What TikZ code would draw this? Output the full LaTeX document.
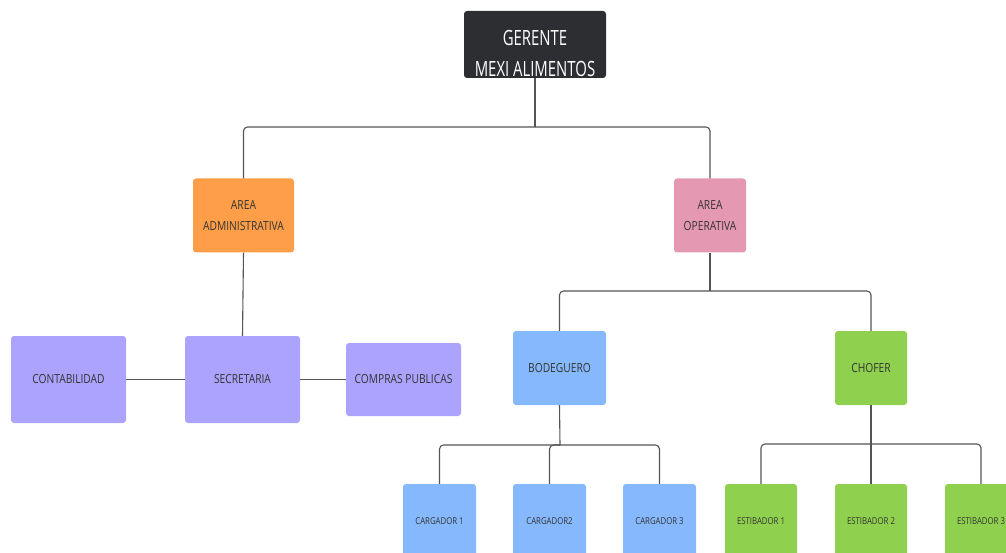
\documentclass[tikz,border=0pt]{standalone}
\usepackage{fontspec}
\setmainfont[FakeStretch=0.82]{Open Sans}
\newfontfamily\headfont[FakeStretch=0.71]{Open Sans}
\begin{document}
\begin{tikzpicture}[x=1pt,y=-1pt,
  box/.style={rounded corners=3pt, inner sep=0pt, align=center, text=black!80},
  head/.style={box, fill=headgray, minimum width=142pt, minimum height=67pt},
  headtext/.style={align=center, inner sep=0pt, text=white, font=\headfont\fontsize{21}{30.5}\selectfont},
  midbox/.style={box, minimum width=101pt, minimum height=74pt, font=\fontsize{12.5}{21}\selectfont},
  leaf/.style={box, minimum width=73pt, minimum height=74pt, font=\fontsize{9.5}{11}\selectfont},
  link/.style={draw=linegray, line width=1.1pt, rounded corners=4pt}]
\definecolor{headgray}{HTML}{2D2E32}
\definecolor{orangebox}{HTML}{FE9E48}
\definecolor{pinkbox}{HTML}{E598B2}
\definecolor{purplebox}{HTML}{ABA3FD}
\definecolor{bluebox}{HTML}{86B8FD}
\definecolor{greenbox}{HTML}{8FD14F}
\definecolor{linegray}{HTML}{555555}
\useasboundingbox (0,0) rectangle (1006,553);
\clip (0,0) rectangle (1006,553);
\fill[white] (0,0) rectangle (1006,553);

% top of the chart
\node[head] (ger) at (535,44.5) {};
\node[headtext] (gertext) at (535,53.5) {GERENTE\\MEXI ALIMENTOS};

% second level
\node[midbox, fill=orangebox] (adm) at (243.5,215.5) {AREA\\ADMINISTRATIVA};
\node[midbox, fill=pinkbox, minimum width=72pt] (ope) at (710,215.5) {AREA\\OPERATIVA};

% administrative branch
\node[midbox, fill=purplebox, minimum width=115pt, minimum height=87pt] (sec) at (242.5,379.5) {SECRETARIA};
\node[midbox, fill=purplebox, minimum width=115pt, minimum height=87pt] (con) at (68.5,379.5) {CONTABILIDAD};
\node[midbox, fill=purplebox, minimum width=115pt, minimum height=73pt] (com) at (403.5,379.5) {COMPRAS PUBLICAS};

% operative branch
\node[midbox, fill=bluebox, minimum width=93pt] (bod) at (559.5,368) {BODEGUERO};
\node[midbox, fill=greenbox, minimum width=72pt] (cho) at (871,368) {CHOFER};

% loaders and stevedores
\node[leaf, fill=bluebox] (c1) at (439.5,521) {CARGADOR 1};
\node[leaf, fill=bluebox] (c2) at (549.5,521) {CARGADOR2};
\node[leaf, fill=bluebox] (c3) at (659.5,521) {CARGADOR 3};
\node[leaf, fill=greenbox, minimum width=72pt] (e1) at (761,521) {ESTIBADOR 1};
\node[leaf, fill=greenbox, minimum width=72pt] (e2) at (871,521) {ESTIBADOR 2};
\node[leaf, fill=greenbox, minimum width=72pt] (e3) at (981,521) {ESTIBADOR 3};

% connectors
\coordinate (j0) at (535,127);
\coordinate (j1) at (710,291);
\coordinate (j2) at (560,445);
\coordinate (j3) at (871,444);

\draw[link] (ger.south) -- (j0);
\draw[link] (j0) -| (adm.north);
\draw[link] (j0) -| (ope.north);
\draw[link] (adm.south) -- (sec.north);
\draw[link] (con.east) -- (sec.west);
\draw[link] (sec.east) -- (com.west);

\draw[link] (ope.south) -- (j1);
\draw[link] (j1) -| (bod.north);
\draw[link] (j1) -| (cho.north);

\draw[link] (bod.south) -- (j2);
\draw[link] (j2) -| (c1.north);
\draw[link] (j2) -| (c2.north);
\draw[link] (j2) -| (c3.north);

\draw[link] (cho.south) -- (j3);
\draw[link] (j3) -| (e1.north);
\draw[link] (j3) -- (e2.north);
\draw[link] (j3) -| (e3.north);
\end{tikzpicture}
\end{document}
